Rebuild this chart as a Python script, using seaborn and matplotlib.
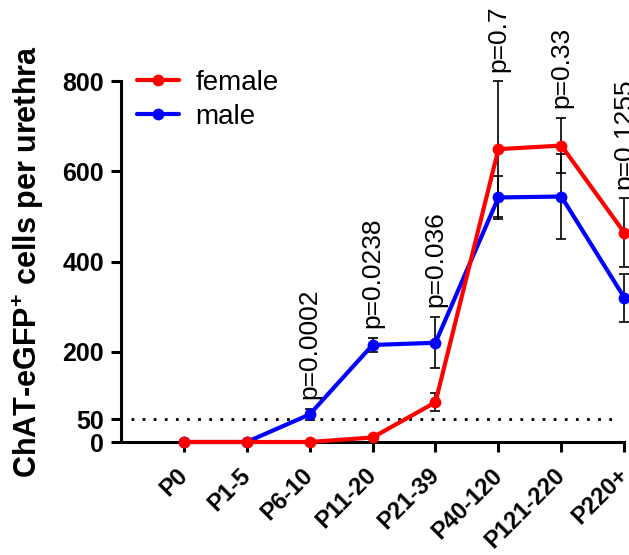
import numpy as np
import pandas as pd
import seaborn as sns
import matplotlib.pyplot as plt
from matplotlib.transforms import ScaledTranslation

# ages and counts
ages = ['P0', 'P1-5', 'P6-10', 'P11-20', 'P21-39', 'P40-120', 'P121-220', 'P220+']
female_mean = [0, 0, 0, 10, 88, 649, 657, 464]
female_err = [0, 0, 0, 0, 20, 150, 61, 76]
male_mean = [0, 0, 61, 215, 220, 542, 544, 320]
male_err = [0, 0, 13, 16, 57, 48, 95, 53]
p_values = ['', '', 'p=0.0002', 'p=0.0238', 'p=0.036', 'p=0.7', 'p=0.33', 'p=0.1255']
threshold = 50
y_ticks = [0, 50, 200, 400, 600, 800]

sns.set_style("ticks")
plt.rcParams['font.family'] = ['Liberation Sans', 'DejaVu Sans']
plt.rcParams['mathtext.fontset'] = 'custom'
plt.rcParams['mathtext.bf'] = 'Liberation Sans:bold'
plt.rcParams['mathtext.rm'] = 'Liberation Sans:bold'
plt.rcParams['text.color'] = 'black'
plt.rcParams['xtick.color'] = 'black'
plt.rcParams['ytick.color'] = 'black'
plt.rcParams['axes.labelcolor'] = 'black'
plt.rcParams['axes.edgecolor'] = 'black'

df = pd.DataFrame({
    'age': ages * 2,
    'cells': female_mean + male_mean,
    'err': female_err + male_err,
    'sex': ['female'] * len(ages) + ['male'] * len(ages),
})

fig = plt.figure(figsize=(6.29, 5.55), dpi=100)
ax = fig.add_axes([0.192, 0.2036, 0.8005, 0.6504])

colors = {'female': 'red', 'male': 'blue'}

# error bars behind the lines
for sex in ['male', 'female']:
    d = df[df['sex'] == sex]
    ax.errorbar(d['age'], d['cells'], yerr=d['err'], fmt='none', ecolor='black',
                elinewidth=1.2, capsize=3.5, capthick=1.2, zorder=2, clip_on=False)

for sex in ['male', 'female']:
    sns.lineplot(data=df[df['sex'] == sex], x='age', y='cells', color=colors[sex],
                 marker='o', markersize=8.5, markeredgewidth=0, linewidth=3,
                 label=sex, ax=ax, zorder=3, clip_on=False)

ax.axhline(threshold, xmin=0.02, xmax=0.99, color='black', linewidth=2,
           linestyle=(0, (1, 3)), zorder=1)

# p-value annotations above the higher error bar
tops = np.maximum(np.array(female_mean) + np.array(female_err),
                  np.array(male_mean) + np.array(male_err))
for age, top, p in zip(ages, tops, p_values):
    if p:
        ax.annotate(p, xy=(age, top), xytext=(0, 7), textcoords='offset points',
                    rotation=90, ha='center', va='bottom', fontsize=19,
                    annotation_clip=False)

ax.set_xlim(-1, len(ages) - 1)
ax.set_ylim(0, 800)
ax.set_yticks(y_ticks)
ax.set_xlabel('')
ax.set_ylabel(r'ChAT-eGFP$^{\mathbf{+}}$ cells per urethra', fontsize=22,
              fontweight='bold', labelpad=12)
ax.tick_params(axis='both', width=2.2, length=7, labelsize=18)
ax.tick_params(axis='y', pad=5)
for lab in ax.get_yticklabels():
    lab.set_fontweight('bold')
ax.set_xticks(range(len(ages)))
ax.set_xticklabels(ages, rotation=45, ha='right', rotation_mode='anchor',
                   fontweight='bold', fontsize=17)
shift = ScaledTranslation(-0.08, -0.07, fig.dpi_scale_trans)
for lab in ax.get_xticklabels():
    lab.set_transform(lab.get_transform() + shift)
sns.despine(ax=ax)
for s in ['left', 'bottom']:
    ax.spines[s].set_linewidth(2.2)

handles, labels = ax.get_legend_handles_labels()
order = [labels.index('female'), labels.index('male')]
ax.legend([handles[i] for i in order], [labels[i] for i in order],
          loc='upper left', bbox_to_anchor=(0.005, 1.07), frameon=False,
          fontsize=20, handlelength=1.5, handletextpad=0.6, borderpad=0,
          labelspacing=0.3)

fig.savefig('out.png', dpi=100)
